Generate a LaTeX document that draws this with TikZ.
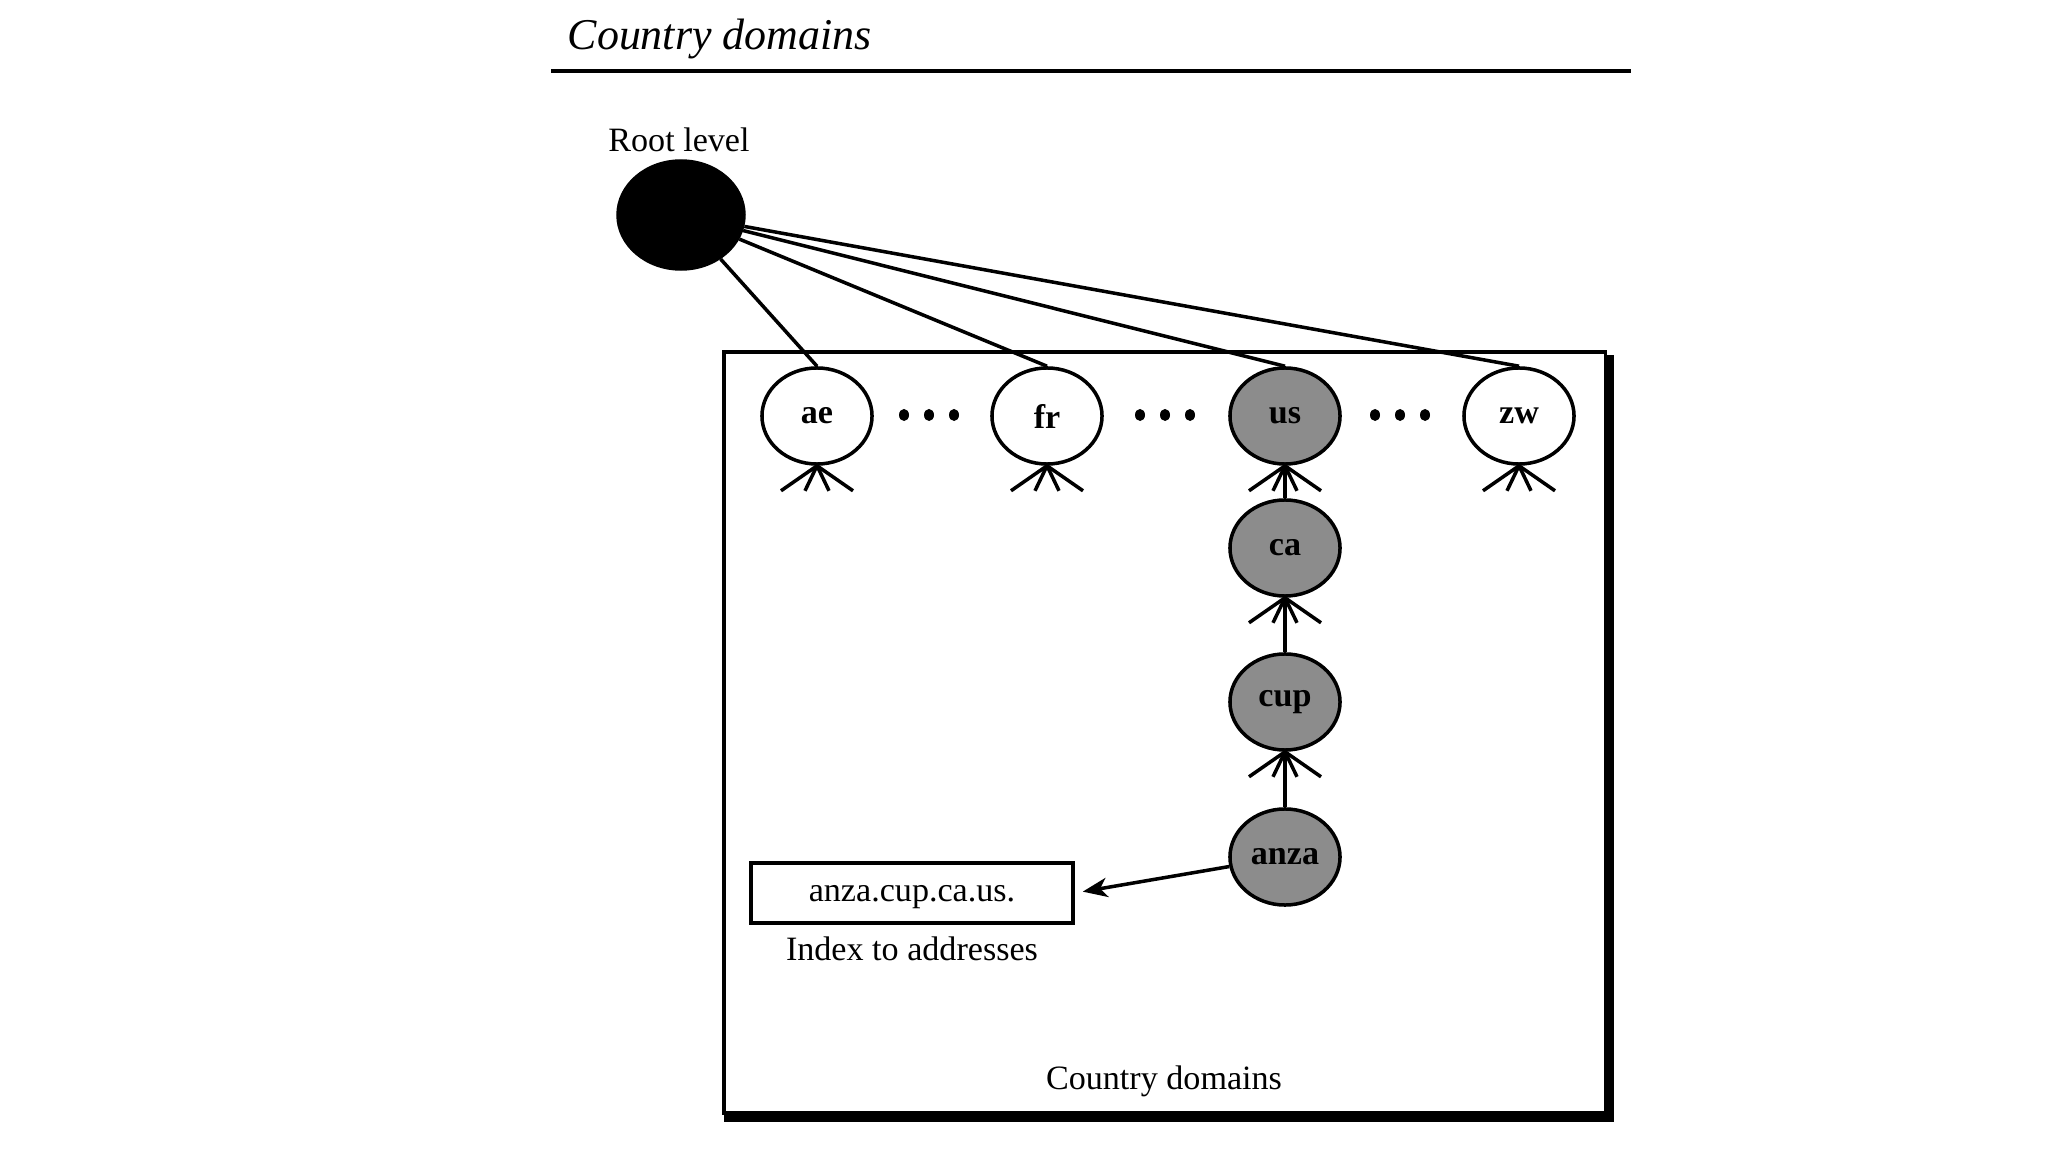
\documentclass[tikz,border=0pt]{standalone}
\usepackage{fontspec}
\setmainfont{Liberation Serif}
\usetikzlibrary{shapes.geometric,arrows.meta,calc}
\newcommand\crowfoot[1]{\foreach \dx in {-36,-12,12,36}{\draw[conn] (#1.south) -- ++(\dx,25);}}
\begin{document}
\begin{tikzpicture}[x=0.01cm,y=-0.01cm,
 dom/.style={ellipse,draw,line width=1pt,minimum width=1.1cm,minimum height=0.96cm,inner sep=0pt,font=\fontsize{9.7}{11}\selectfont\bfseries},
 shadeddom/.style={dom,fill=black!45},
 conn/.style={line width=1pt},
 lbl/.style={font=\fontsize{9.7}{11}\selectfont,inner sep=0pt},
 dotmark/.style={ellipse,fill=black,minimum width=0.1cm,minimum height=0.12cm,inner sep=0pt}]
\useasboundingbox (0,0) rectangle (2048,1152);
\fill[white] (0,0) rectangle (2048,1152);
% title and rule
\node[font=\fontsize{12.5}{14}\selectfont\itshape,anchor=base west,inner sep=0pt] (title) at (567,50) {Country domains};
\coordinate (ruleL) at (551,71);
\coordinate (ruleR) at (1631,71);
\draw[line width=0.9pt] (ruleL) -- (ruleR);
% root
\node[lbl,anchor=base] (rootlbl) at (679,152) {Root level};
\node[ellipse,fill=black,draw,minimum width=1.28cm,minimum height=1.1cm,inner sep=0pt] (root) at (681,215) {};
% box
\node[draw,line width=1pt,minimum width=8.81cm,minimum height=7.61cm,inner sep=0pt] (box) at (1164.5,732.5) {};
\draw[line width=2.2pt] ($(box.north east)+(3,5)$) -- ($(box.south east)+(3,3)$) -- ($(box.south west)+(2,3)$);
% country nodes
\node[dom] (ae) at (817,416) {ae};
\node[dom] (fr) at (1047,416) {fr};
\node[shadeddom] (us) at (1285,416) {us};
\node[dom] (zw) at (1519,416) {zw};
\node[shadeddom] (ca) at (1285,548) {ca};
\node[shadeddom] (cup) at (1285,702) {cup};
\node[shadeddom] (anza) at (1285,857) {anza};
% dots
\foreach \c [count=\i] in {929,1165,1400}{
  \foreach \o [count=\j] in {-25,0,25}{
    \node[dotmark] (d\i\j) at (\c+\o,415) {};
  }
}
% root connectors
\foreach \n in {ae,fr,us,zw}{\draw[conn] (root) -- (\n.north);}
% crow's feet
\foreach \n in {ae,fr,us,zw,ca,cup}{\crowfoot{\n}}
\draw[conn] (ca.north) -- (us.south);
\draw[conn] (cup.north) -- (ca.south);
\draw[conn] (anza.north) -- (cup.south);
% index box
\node[draw,line width=1pt,minimum width=3.22cm,minimum height=0.6cm,inner sep=0pt,text depth=0pt,lbl] (idx) at (912,893) {anza.cup.ca.us.};
\draw[conn,-{Stealth[length=7pt,width=5.5pt,inset=2pt]},shorten >=8*0.01cm] (anza) -- (idx.east);
\node[lbl,anchor=base] (idxlbl) at (912,960) {Index to addresses};
\node[lbl,anchor=base] (boxlbl) at (1164,1089) {Country domains};
\end{tikzpicture}
\end{document}
